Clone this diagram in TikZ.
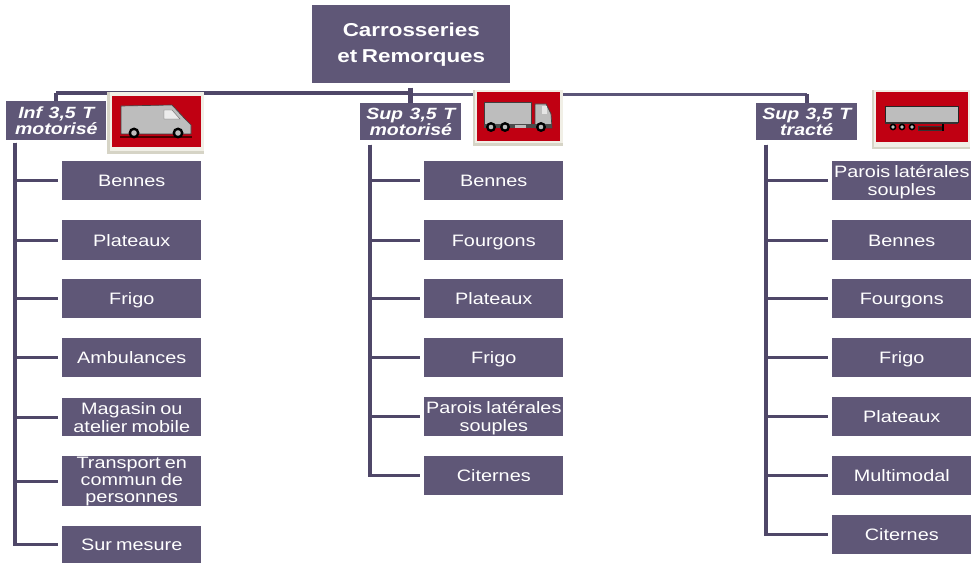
\documentclass[tikz,border=0pt]{standalone}
\usepackage{fontspec}
\setmainfont[FakeStretch=1.2,WordSpace=0.75]{Liberation Sans}
\newfontfamily\hdfont[FakeStretch=1.2,WordSpace=1.2]{Liberation Sans}
\definecolor{boxc}{HTML}{5F5777}
\definecolor{linec}{HTML}{4F4768}
\definecolor{linel}{HTML}{5B5578}
\definecolor{redc}{HTML}{C00012}
\definecolor{framec}{HTML}{F1EFE6}
\definecolor{frameg}{HTML}{D6D4C6}
\definecolor{greyc}{HTML}{BDBDBD}
\tikzset{
  x=0.75pt,y=-0.75pt,
  bx/.style={fill=boxc,draw=none,inner sep=0pt,text=white,align=center,font=\fontsize{12.4}{13.4}\selectfont,anchor=north west},
  hd/.style={bx,font=\hdfont\fontsize{12.2}{11.5}\selectfont\bfseries\itshape},
  conn/.style={draw=linec,line width=3.8*0.75pt},
  thin conn/.style={draw=linel,line width=3*0.75pt},
  branch/.style={conn,line width=3.4*0.75pt,shorten >=3pt},
  frameb/.style={fill=framec,draw=none},
  redb/.style={fill=redc,draw=none},
}
\newcommand{\tsa}{\rule{0pt}{11.92pt}}
\newcommand{\tsb}{\rule[-3pt]{0pt}{3pt}}
\newcommand{\bxn}[6]{\node[bx,minimum width=#4*0.75pt,minimum height=#5*0.75pt] (#1) at (#2,#3) {\tsa #6\tsb};}
\newcommand{\bxt}[6]{\node[bx,minimum width=#4*0.75pt,minimum height=#5*0.75pt] (#1) at (#2,#3) {#6};}
\newcommand{\hdn}[6]{\node[hd,minimum width=#4*0.75pt,minimum height=#5*0.75pt] (#1) at (#2,#3) {#6};}
\begin{document}
\begin{tikzpicture}
\useasboundingbox (0,0) rectangle (973,563);
\fill[white] (0,0) rectangle (973,563);
% root and headers
\node[bx,minimum width=198*0.75pt,minimum height=78*0.75pt,font=\fontsize{14}{19.5}\selectfont\bfseries] (root) at (312,5) {Carrosseries\\et Remorques};
\hdn{hl}{6}{101}{100}{39}{Inf 3,5 T\\motorisé}
\hdn{hm}{360}{103}{101}{37}{Sup 3,5 T\\motorisé}
\hdn{hr}{756}{103}{101}{37}{Sup 3,5 T\\tracté}
% bus
\coordinate (busm) at (hm.north |- 0,93);
\coordinate (busr) at (hr.north |- 0,94.5);
\coordinate (busl) at (hl.north |- 0,93);
\draw[thin conn] (busm |- 0,94.5) -- (busr);
\draw[conn] (busr) -- (hr.north);
\draw[conn] (busl) -- (hl.north);
\draw[conn] (busl) -- (busm);
\draw[conn,line width=5*0.75pt] (hm.north |- root.south) ++(0,4) -- (hm.north);
% left column
\bxn{la}{62}{161}{139}{39}{Bennes}
\bxn{lb}{62}{220}{139}{40}{Plateaux}
\bxn{lc}{62}{279}{139}{39}{Frigo}
\bxn{ld}{62}{338}{139}{39}{Ambulances}
\bxn{le}{62}{398}{139}{38}{Magasin ou\\atelier mobile}
\bxt{lf}{62}{456}{139}{50}{Transport en\\[-0.6pt]commun de\\[-0.6pt]personnes}
\bxn{lg}{62}{526}{139}{37}{Sur mesure}
\coordinate (lt) at (15,143);
\foreach \n in {la,lb,lc,ld,le,lf,lg} \draw[branch] (lt) |- (\n.west);
% middle column
\bxn{ma}{424}{161}{139}{39}{Bennes}
\bxn{mb}{424}{220}{139}{40}{Fourgons}
\bxn{mc}{424}{279}{139}{39}{Plateaux}
\bxn{md}{424}{338}{139}{39}{Frigo}
\bxn{me}{424}{397}{139}{39}{Parois latérales\\souples}
\bxn{mf}{424}{456}{139}{39}{Citernes}
\coordinate (mt) at (370,145);
\foreach \n in {ma,mb,mc,md,me,mf} \draw[branch] (mt) |- (\n.west);
% right column
\bxn{ra}{832}{161}{139}{39}{Parois latérales\\souples}
\bxn{rb}{832}{220}{139}{40}{Bennes}
\bxn{rc}{832}{279}{139}{39}{Fourgons}
\bxn{rd}{832}{338}{139}{39}{Frigo}
\bxn{re}{832}{397}{139}{39}{Plateaux}
\bxn{rf}{832}{456}{139}{39}{Multimodal}
\bxn{rg}{832}{515}{139}{39}{Citernes}
\coordinate (rt) at (766,145);
\foreach \n in {ra,rb,rc,rd,re,rf,rg} \draw[branch] (rt) |- (\n.west);
% van icon
\fill[frameg] (107,92) rectangle (204,154);
\fill[framec] (110,92) rectangle (204,151);
\fill[redb] (112,96) rectangle (201,147);
\fill[black!70!red] (120,136) rectangle (192,138);
\fill[greyc,draw=black!75,line width=0.5pt] (121,106) -- (121,134) -- (191,134) -- (191,125) -- (186,120) -- (172,105) -- cycle;
\fill[white!92!black,draw=black!60,line width=0.3pt] (164,110) -- (172,110) -- (180,119) -- (164,119) -- cycle;
\foreach \cx in {134,178} {\fill[black] (\cx,133) circle (5.5); \fill[greyc] (\cx,133) circle (2.8);}
% truck icon
\fill[frameg] (473,90) rectangle (563,146);
\fill[framec] (475,90) rectangle (563,143);
\fill[redb] (477,92) rectangle (560,141);
\fill[greyc,draw=black!75,line width=0.5pt] (484,102) rectangle (531,124);
\fill[greyc,draw=black!75,line width=0.5pt] (535,104) -- (546,104) -- (551,114) -- (552,128) -- (535,128) -- cycle;
\fill[white!90!black] (542,106) rectangle (547,114);
\fill[black!70] (484,124) rectangle (552,128);
\foreach \cx in {491,505,541} {\fill[black] (\cx,127) circle (5); \fill[greyc] (\cx,127) circle (2.3);}
\fill[greyc] (515,125) rectangle (526,128);
% trailer icon
\fill[frameg] (872,90) rectangle (970,149);
\fill[framec] (874,90) rectangle (970,147);
\fill[redb] (876,92) rectangle (968,142);
\fill[greyc,draw=black!85,line width=0.5pt] (885,106) rectangle (958,122);
\fill[black!80] (885,122) rectangle (958,124);
\fill[black!60!red,draw=black!80,line width=0.3pt] (918,126) rectangle (942,130);
\foreach \cx in {893,902,912} {\fill[black] (\cx,127) circle (3.4); \fill[greyc] (\cx,127) circle (1.9);}
\fill[black] (942,124) rectangle (944,131);
\end{tikzpicture}
\end{document}
